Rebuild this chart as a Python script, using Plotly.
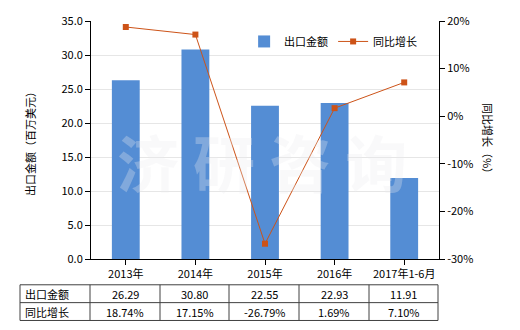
import plotly.graph_objects as go

categories = ["2013年", "2014年", "2015年", "2016年", "2017年1-6月"]
export_values = [26.29, 30.80, 22.55, 22.93, 11.91]
growth_values = [18.74, 17.15, -26.79, 1.69, 7.10]
row_labels = ["出口金额", "同比增长"]
left_ticks = [0, 5, 10, 15, 20, 25, 30, 35]
right_ticks = [-30, -20, -10, 0, 10, 20]

FONT = "Noto Sans CJK SC"
BAR_COLOR = "#548DD4"
LINE_COLOR = "#CD5318"

W, H = 520, 330
L, R, T, B = 91, 439, 19, 259

fig = go.Figure()
fig.add_trace(go.Bar(x=categories, y=export_values, name="出口金额",
                     marker=dict(color=BAR_COLOR, line=dict(width=0)), width=0.4))
fig.add_trace(go.Scatter(x=categories, y=growth_values, name="同比增长", yaxis="y2",
                         mode="lines+markers",
                         line=dict(color=LINE_COLOR, width=1),
                         marker=dict(symbol="square", size=6, color=LINE_COLOR)))

def px(x):
    return (x - L) / (R - L)

def py(y):
    return (B - y) / (B - T)

shapes = []
ann = []
# table
tx0, tx1 = 20, 438
ty = [285, 303, 321]
colx = [20, 90, 160, 229, 299, 369, 438]
for y in ty:
    shapes.append(dict(type="line", xref="paper", yref="paper", x0=px(tx0), x1=px(tx1),
                       y0=py(y), y1=py(y), line=dict(color="#404040", width=1)))
for x in colx:
    shapes.append(dict(type="line", xref="paper", yref="paper", x0=px(x), x1=px(x),
                       y0=py(ty[0]), y1=py(ty[2]), line=dict(color="#404040", width=1)))
rows = [[f"{v:.2f}" for v in export_values], [f"{v:.2f}%" for v in growth_values]]
for r in range(2):
    yc = (ty[r] + ty[r + 1]) / 2
    ann.append(dict(text=row_labels[r], xref="paper", yref="paper", x=px(colx[0] + 3), y=py(yc),
                    xanchor="left", yanchor="middle", showarrow=False,
                    font=dict(family=FONT, size=11, color="#000")))
    for i, t in enumerate(rows[r]):
        xc = (colx[i + 1] + colx[i + 2]) / 2
        ann.append(dict(text=t, xref="paper", yref="paper", x=px(xc), y=py(yc),
                        xanchor="center", yanchor="middle", showarrow=False,
                        font=dict(family=FONT, size=11, color="#000")))

# axis titles
ann.append(dict(text="出口金额（百万美元）", xref="paper", yref="paper", x=px(30), y=py(140),
                textangle=-90, showarrow=False, xanchor="center", yanchor="middle",
                font=dict(family=FONT, size=11, color="#000")))
ann.append(dict(text="同比增长（%）", xref="paper", yref="paper", x=px(488), y=py(140),
                textangle=90, showarrow=False, xanchor="center", yanchor="middle",
                font=dict(family=FONT, size=11, color="#000")))
# watermark
ann.append(dict(text="<b>济 研 咨 询</b>", xref="paper", yref="paper", x=px(262), y=py(160),
                showarrow=False, xanchor="center", yanchor="middle",
                font=dict(family=FONT, size=62, color="rgba(235,235,240,0.3)")))

fig.update_layout(
    width=W, height=H,
    margin=dict(l=L, r=W - R, t=T, b=H - B),
    paper_bgcolor="white", plot_bgcolor="white",
    font=dict(family=FONT, size=11, color="#000"),
    showlegend=True,
    legend=dict(orientation="h", x=0.44, y=0.975, xanchor="left", yanchor="top",
                bgcolor="rgba(0,0,0,0)", font=dict(family=FONT, size=11),
                itemwidth=30, tracegroupgap=0),
    xaxis=dict(showline=True, linecolor="#000", linewidth=1, ticks="outside", ticklen=5,
               tickcolor="#000", showgrid=False, tickfont=dict(size=11)),
    yaxis=dict(range=[0, 35], tickvals=left_ticks, tickformat=".1f", showline=True,
               linecolor="#000", linewidth=1, ticks="outside", ticklen=5, tickcolor="#000",
               showgrid=True, gridcolor="#E6E6E6", gridwidth=1, zeroline=False,
               tickfont=dict(size=11)),
    yaxis2=dict(range=[-30, 20], tickmode="array", tickvals=right_ticks,
                ticktext=[f"{v}%" for v in right_ticks], overlaying="y",
                side="right", showline=True, linecolor="#000", linewidth=1, ticks="outside",
                ticklen=5, tickcolor="#000", showgrid=False, zeroline=False,
                tickfont=dict(size=11)),
    shapes=shapes,
    annotations=ann,
)

fig.write_html("out.html")
